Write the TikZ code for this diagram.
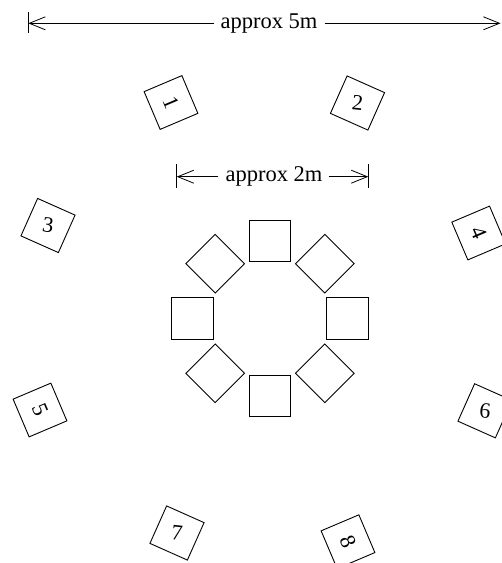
\documentclass[tikz,border=0pt]{standalone}
\usepackage{fontspec}
\setmainfont{Liberation Serif}
\usetikzlibrary{arrows.meta,calc}
\begin{document}
\begin{tikzpicture}[x=1pt,y=-1pt,
  spk/.style={draw, line width=0.9pt, minimum size=41pt, inner sep=0pt, font=\fontsize{22}{24}\selectfont},
  seat/.style={draw, line width=0.9pt, minimum size=41.5pt, inner sep=0pt},
  lbl/.style={font=\fontsize{22.5}{25}\selectfont, inner sep=0pt},
  dim/.style={line width=0.8pt, -{Straight Barb[length=16pt,width=13pt,line width=0.8pt]}},
  bar/.style={line width=0.9pt}]
\useasboundingbox (0,0) rectangle (502,563);
\clip (0,0) rectangle (502,563);
% outer 5m dimension
\coordinate (a1) at (28.3,23.3);
\coordinate (a2) at (500.5,23.3);
\node[lbl] (t5) at (269,23.3) {approx 5m};
\draw[dim] ([xshift=-6pt]t5.west) -- (a1);
\draw[dim] ([xshift=7pt]t5.east) -- (a2);
\coordinate (b1t) at (28.3,12.3);
\coordinate (b1b) at (28.3,33.3);
\draw[bar] (b1t) -- (b1b);
% inner 2m dimension
\coordinate (c1) at (176.7,176.7);
\coordinate (c2) at (368.3,176.7);
\node[lbl] (t2) at (274,176.7) {approx 2m};
\draw[dim] ([xshift=-7pt]t2.west) -- (c1);
\draw[dim] ([xshift=6pt]t2.east) -- (c2);
\draw[bar] (176.7,164) coordinate (c1t) -- (176.7,188) coordinate (c1b);
\draw[bar] (368.3,164) coordinate (c2t) -- (368.3,188) coordinate (c2b);
% seats
\coordinate (ctr) at (270,318.5);
\foreach \i/\ang in {0/0,1/45,2/90,3/135,4/180,5/225,6/270,7/315}{
  \node[seat, rotate=\ang] (seat\i) at ($(ctr)+(\ang:77.5)$) {};
}
% speakers
\node[spk, rotate=-67] (s1) at (171,102.5) {1};
\node[spk, rotate=-24] (s2) at (357.5,103) {\rotatebox{18}{2}};
\node[spk, rotate=-24] (s3) at (48,225.5) {\rotatebox{16}{3}};
\node[spk, rotate=-67] (s4) at (478.7,233) {4};
\node[spk, rotate=-67] (s5) at (40,410) {5};
\node[spk, rotate=-24] (s6) at (485,410.8) {\rotatebox{18}{6}};
\node[spk, rotate=-24] (s7) at (177,533) {\rotatebox{18}{7}};
\node[spk, rotate=-67] (s8) at (348,541.7) {8};
\end{tikzpicture}
\end{document}
